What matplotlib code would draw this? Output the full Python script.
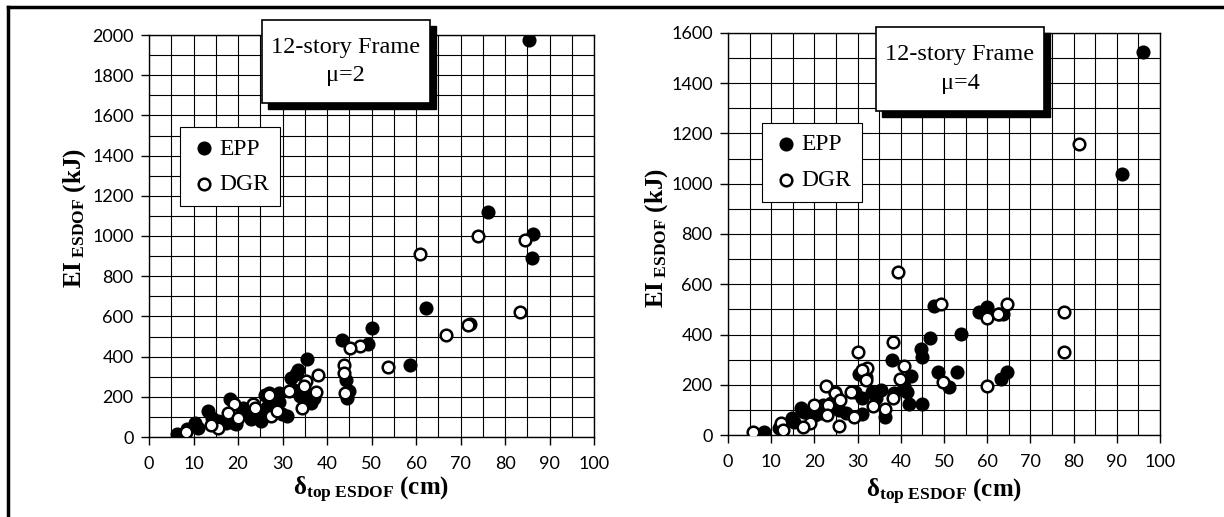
import numpy as np
import matplotlib
matplotlib.use("Agg")
import matplotlib.pyplot as plt
from matplotlib.patches import Rectangle
from matplotlib.lines import Line2D
from matplotlib.ticker import MultipleLocator

plt.rcParams['font.family']        = "Liberation Serif"
plt.rcParams['mathtext.fontset']   = "custom"
plt.rcParams['mathtext.rm']        = "Liberation Serif"
plt.rcParams['mathtext.it']        = "Liberation Serif:italic"
plt.rcParams['mathtext.bf']        = "Liberation Serif:bold"

# mu = 2 panel
epp2_x = [85.3, 76.1, 86.2, 86.0, 62.3, 50.2, 49.2, 43.4, 58.6, 72.2, 35.6, 44.2, 45.0, 44.5,
          33.5, 33.0, 31.8, 36.3, 35.7, 36.3, 34.0, 30.9, 29.3, 29.3, 26.1, 18.2, 13.3, 10.3,
          8.5, 6.3, 14.2, 15.5, 17.3, 19.0, 19.5, 21.2, 22.6, 23.0, 25.2, 27.0, 27.8, 28.3,
          23.9, 20.8, 11.0, 16.5, 24.5, 29.8, 32.5, 34.8, 37.0, 21.8, 26.5]
epp2_y = [1975, 1119, 1010, 891, 642, 543, 465, 485, 356, 563, 386, 286, 228, 195,
          333, 311, 295, 204, 179, 167, 204, 104, 220, 174, 207, 190, 129, 71,
          38, 17, 96, 80, 71, 71, 63, 146, 104, 88, 80, 137, 162, 187,
          137, 121, 45, 75, 115, 115, 235, 225, 195, 130, 150]
dgr2_x = [60.9, 73.9, 84.6, 83.4, 66.7, 47.4, 45.2, 53.6, 71.7, 37.9, 43.8, 43.8, 44.0, 35.3,
          34.9, 37.6, 31.5, 26.9, 27.0, 23.4, 23.9, 19.0, 17.7, 27.4, 15.5, 14.0, 8.3, 20.1,
          28.7, 34.4]
dgr2_y = [911, 998, 979, 624, 505, 452, 444, 346, 556, 308, 356, 320, 220, 278,
          253, 223, 228, 220, 207, 162, 146, 162, 121, 104, 46, 58, 26, 96,
          129, 146]

# mu = 4 panel
epp4_x = [96.1, 91.3, 58.1, 59.9, 62.7, 63.6, 53.9, 47.8, 46.8, 44.6, 45.0, 48.7, 52.9, 51.1,
          64.5, 63.1, 38.0, 42.3, 40.8, 41.4, 41.9, 45.0, 38.4, 35.5, 33.3, 34.2, 31.0, 30.4,
          32.0, 29.4, 24.7, 25.2, 23.8, 22.0, 20.9, 20.2, 21.5, 17.0, 17.5, 14.7, 15.2, 11.8,
          8.4, 27.2, 25.6, 36.4, 31.0]
epp4_y = [1524, 1040, 489, 511, 481, 481, 401, 514, 385, 341, 312, 252, 252, 193,
          252, 222, 299, 236, 195, 173, 123, 123, 166, 179, 173, 146, 146, 242,
          232, 173, 173, 153, 126, 120, 106, 80, 89, 106, 93, 66, 53, 27,
          11, 86, 100, 73, 82]
dgr4_x = [81.2, 39.4, 49.4, 64.6, 77.8, 77.8, 59.9, 62.5, 59.9, 49.7, 38.1, 30.1, 40.8, 32.1,
          31.0, 32.0, 39.9, 22.7, 24.7, 28.5, 38.1, 33.5, 36.4, 25.6, 23.1, 22.9, 19.8, 18.9,
          17.4, 12.2, 12.7, 5.7, 29.2, 26.0]
dgr4_y = [1159, 648, 521, 521, 489, 329, 465, 481, 197, 212, 369, 332, 276, 266,
          259, 219, 222, 197, 166, 173, 146, 116, 102, 36, 120, 80, 120, 46,
          33, 49, 20, 11, 73, 139]

y_max   = [2000, 1600]
titles  = ["12-story Frame\n\u03bc=2", "12-story Frame\n\u03bc=4"]

fig = plt.figure(figsize=[12.24, 5.17], dpi=100)

ax1 = fig.add_axes([149/1224, 1-437/517, 445/1224, 402/517])
ax2 = fig.add_axes([728/1224, 1-435/517, 432/1224, 402/517])

# outer frame (top and left only)
fig.add_artist(Line2D([8/1224, 8/1224], [0, 1-6.5/517], transform=fig.transFigure, color='k', lw=2.5))
fig.add_artist(Line2D([8/1224, 1], [1-6.5/517, 1-6.5/517], transform=fig.transFigure, color='k', lw=2.5))

panels = [(ax1, epp2_x, epp2_y, dgr2_x, dgr2_y, y_max[0], titles[0],
           (0.254, 0.83, 0.377, 0.2075), (0.070, 0.77)),
          (ax2, epp4_x, epp4_y, dgr4_x, dgr4_y, y_max[1], titles[1],
           (0.343, 0.806, 0.388, 0.209), (0.079, 0.776))]

for ax, ex, ey, dx, dy, ymax, title, box, leg in panels:
    ax.scatter(ex, ey, s=80, c='k', edgecolors='k', linewidths=1.2, label='EPP', zorder=3)
    ax.scatter(dx, dy, s=70, c='white', edgecolors='k', linewidths=1.8, label='DGR', zorder=3)

    ax.set_xlim(0, 100)
    ax.set_ylim(0, ymax)
    ax.xaxis.set_major_locator(MultipleLocator(10))
    ax.xaxis.set_minor_locator(MultipleLocator(5))
    ax.yaxis.set_major_locator(MultipleLocator(200))
    ax.yaxis.set_minor_locator(MultipleLocator(100))
    ax.grid(which='both', color='k', lw=0.8)
    ax.set_axisbelow(True)
    ax.tick_params(which='major', direction='out', length=6, width=1, labelsize=13)
    ax.tick_params(axis='x', which='major', pad=8)
    ax.tick_params(axis='y', which='major', pad=5)
    ax.tick_params(which='minor', length=0)
    for lab in ax.get_xticklabels() + ax.get_yticklabels():
        lab.set_fontfamily('Lato')
    for sp in ax.spines.values():
        sp.set_linewidth(1)

    ax.set_xlabel(r'$\mathbf{\delta}_{\mathbf{top\ ESDOF}}\ \mathbf{(cm)}$', fontsize=18)
    ax.set_ylabel(r'$\mathbf{EI}_{\mathbf{\ ESDOF}}\ \mathbf{(kJ)}$', fontsize=18)

    lg = ax.legend(loc='upper left', bbox_to_anchor=leg, fancybox=False, edgecolor='k',
                   framealpha=1, fontsize=17, labelspacing=0.6, handletextpad=0.1,
                   borderpad=0.45, handlelength=1.1, borderaxespad=0)
    lg.get_frame().set_linewidth(0.8)

    bx, by, bw, bh = box
    off_x = 6/ax.bbox.width
    off_y = 6/ax.bbox.height
    ax.add_patch(Rectangle((bx + off_x, by - off_y), bw, bh, transform=ax.transAxes,
                           facecolor='k', edgecolor='k', clip_on=False, zorder=5))
    ax.add_patch(Rectangle((bx, by), bw, bh, transform=ax.transAxes,
                           facecolor='white', edgecolor='k', lw=1.2, clip_on=False, zorder=6))
    ax.text(bx + bw/2, by + bh/2, title, transform=ax.transAxes, ha='center', va='center',
            fontsize=17.5, linespacing=1.45, zorder=7)

ax1.xaxis.set_label_coords(0.5, -0.095)
ax2.xaxis.set_label_coords(0.5, -0.105)
ax1.yaxis.set_label_coords(-0.137, 0.545)
ax2.yaxis.set_label_coords(-0.134, 0.49)

fig.savefig("out.png", dpi=100)
